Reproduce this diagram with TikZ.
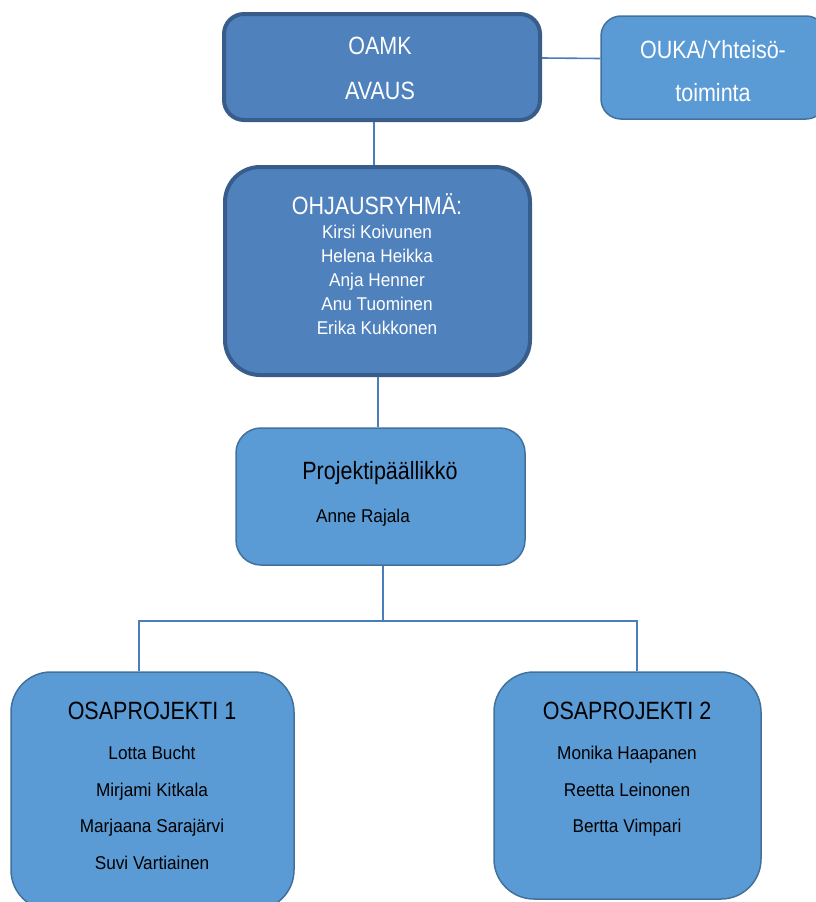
\documentclass[tikz,border=0pt]{standalone}
\usepackage{fontspec}
\setmainfont{Liberation Sans}[FakeStretch=0.93]
\newfontfamily\ttlfont{Liberation Sans}[FakeStretch=0.86]
\usepackage{tikz}
\usetikzlibrary{positioning}

\definecolor{darkfill}{HTML}{4F81BD}
\definecolor{darkline}{HTML}{385D8A}
\definecolor{lightfill}{HTML}{5B9BD5}
\definecolor{lightline}{HTML}{41719C}
\definecolor{linkblue}{HTML}{4A7EBB}

\tikzset{
	darkbox/.style={draw=darkline, line width=4pt, fill=darkfill, rounded corners=#1, inner sep=0pt},
	darkbox/.default=20pt,
	lightbox/.style={draw=lightline, line width=1.5pt, fill=lightfill, rounded corners=#1, inner sep=0pt},
	lightbox/.default=20pt,
	ttl/.style={font=\ttlfont\fontsize{25}{30}\selectfont, inner sep=0pt},
	names/.style={font=\fontsize{18.5}{24}\selectfont, inner sep=0pt, align=center},
	link/.style={draw=linkblue, line width=1.6pt}
}

\begin{document}
\begin{tikzpicture}[x=1pt, y=-1pt]
				\useasboundingbox (0,0) rectangle (815,902);
				
				\node[darkbox=20pt, minimum width=316pt, minimum height=106pt] (oamk) at (382,67) {};
				\node[lightbox=20pt, minimum width=225pt, minimum height=103pt] (ouka) at (713.5,67.5) {};
				\node[darkbox=35pt, minimum width=305pt, minimum height=208pt] (ohj) at (377.5,271) {};
				\node[lightbox=25pt, minimum width=289pt, minimum height=137pt] (proj) at (380.5,496.5) {};
				\node[lightbox=40pt, minimum width=283pt, minimum height=238pt] (osa1) at (152.5,791) {};
				\node[lightbox=40pt, minimum width=267pt, minimum height=227pt] (osa2) at (627.5,785.5) {};
				
				\node[ttl, align=center, text=white, font=\ttlfont\fontsize{25}{45}\selectfont] (oamktxt) at (380,68.5) {OAMK\\AVAUS};
				\node[ttl, align=center, text=white, font=\ttlfont\fontsize{25}{43}\selectfont] (oukatxt) at (713,71.5) {OUKA/Yhteisö-\\toiminta};
				\node[ttl, text=white, anchor=base] (ohjttl) at (377,214) {OHJAUSRYHMÄ:};
				\node[names, text=white] (ohjnames) at (377,280) {Kirsi Koivunen\\Helena Heikka\\Anja Henner\\Anu Tuominen\\Erika Kukkonen};
				\node[ttl, anchor=base] (projttl) at (380,479) {Projektipäällikkö};
				\node[names, anchor=base] (projname) at (363,522) {Anne Rajala};
				\node[ttl, anchor=base] (osa1ttl) at (152,719) {OSAPROJEKTI 1};
				\node[names, font=\fontsize{18.5}{36.5}\selectfont] (osa1names) at (152,807.7) {Lotta Bucht\\Mirjami Kitkala\\Marjaana Sarajärvi\\Suvi Vartiainen};
				\node[ttl, anchor=base] (osa2ttl) at (627,719) {OSAPROJEKTI 2};
				\node[names, font=\fontsize{18.5}{36.5}\selectfont] (osa2names) at (627,791.5) {Monika Haapanen\\Reetta Leinonen\\Bertta Vimpari};
				
				\coordinate (jt) at (374,140);
				\coordinate (jp) at (378,400);
				\coordinate (jm) at (383,621);
				\coordinate (j1) at (139,621);
				\coordinate (j2) at (637,621);
				
				\draw[link] ([yshift=9pt]oamk.east) -- ([yshift=9pt]ouka.west);
				\draw[link] (oamk.south -| jt) -- (ohj.north -| jt);
				\draw[link] (ohj.south -| jp) -- (proj.north -| jp);
				\draw[link] (proj.south -| jm) -- (jm);
				\draw[link] (j1 |- osa1.north) -- (j1) -- (j2) -- (j2 |- osa2.north);
			\end{tikzpicture}
\end{document}
